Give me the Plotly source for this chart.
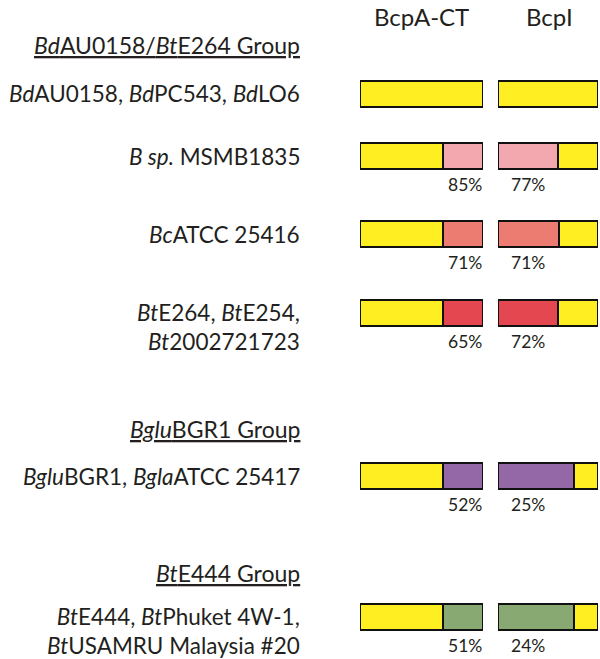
import plotly.graph_objects as go

# ---------------- data ----------------
strains = [
    "<i>Bd</i>AU0158, <i>Bd</i>PC543, <i>Bd</i>LO6",
    "<i>B sp.</i> MSMB1835",
    "<i>Bc</i>ATCC 25416",
    "<i>Bt</i>E264, <i>Bt</i>E254,<br><i>Bt</i>2002721723",
    "<i>Bglu</i>BGR1, <i>Bgla</i>ATCC 25417",
    "<i>Bt</i>E444, <i>Bt</i>Phuket 4W-1,<br><i>Bt</i>USAMRU Malaysia #20",
]
group_titles = [
    "<u><i>Bd</i>AU0158/<i>Bt</i>E264 Group</u>",
    "<u><i>Bglu</i>BGR1 Group</u>",
    "<u><i>Bt</i>E444 Group</u>",
]
column_titles = ["BcpA-CT", "BcpI"]

bcpa_identity = [None, 85, 71, 65, 52, 51]
bcpi_identity = [None, 77, 71, 72, 25, 24]

# relative domain lengths (conserved = yellow, variable = coloured)
bcpa_conserved = [124, 84, 84, 84, 84, 84]
bcpa_variable = [None, 40, 40, 40, 40, 40]
bcpi_variable = [None, 59, 60, 59, 75, 75]
bcpi_conserved = [99, 40, 39, 40, 24, 24]

# ---------------- layout / style ----------------
ROW_Y = [93.5, 156, 234, 313, 476, 617]
GROUP_Y = [45, 429, 573]
HEADER_Y = 16
YELLOW = "#FFEE22"
VAR_COLORS = ["#FFEE22", "#F3A8AF", "#EC7B72", "#E4474F", "#9467A6", "#88AA72"]
FONT = "Lato"
TXT = "#231F20"
LABEL_SIZE = 22.5
W, H = 600, 659

fig = go.Figure()
line = dict(color="#111111", width=2)

fig.add_trace(go.Bar(y=ROW_Y, x=bcpa_conserved, orientation="h", width=26,
                     marker=dict(color=YELLOW, line=line), xaxis="x", yaxis="y",
                     showlegend=False, hoverinfo="skip"))
fig.add_trace(go.Bar(y=ROW_Y, x=bcpa_variable, orientation="h", width=26,
                     marker=dict(color=VAR_COLORS, line=line), xaxis="x", yaxis="y",
                     showlegend=False, hoverinfo="skip"))
fig.add_trace(go.Bar(y=ROW_Y, x=bcpi_variable, orientation="h", width=26,
                     marker=dict(color=VAR_COLORS, line=line), xaxis="x2", yaxis="y",
                     showlegend=False, hoverinfo="skip"))
fig.add_trace(go.Bar(y=ROW_Y, x=bcpi_conserved, orientation="h", width=26,
                     marker=dict(color=YELLOW, line=line), xaxis="x2", yaxis="y",
                     showlegend=False, hoverinfo="skip"))

ann = []
# column headers
for title, xc in zip(column_titles, [421, 549]):
    ann.append(dict(text=title, x=xc / W, y=HEADER_Y, xref="paper", yref="y",
                    xanchor="center", yanchor="middle", showarrow=False,
                    font=dict(family=FONT, size=24, color=TXT)))
# group titles
for title, gy in zip(group_titles, GROUP_Y):
    ann.append(dict(text=title, x=302 / W, y=gy, xref="paper", yref="y",
                    xanchor="right", yanchor="middle", showarrow=False,
                    font=dict(family=FONT, size=23, color=TXT)))
# strain labels
for label, ry in zip(strains, ROW_Y):
    two = "<br>" in label
    ann.append(dict(text=label, x=302 / W, y=ry + (0.62 * LABEL_SIZE if two else 0),
                    xref="paper", yref="y", xanchor="right", yanchor="middle",
                    align="right", showarrow=False,
                    font=dict(family=FONT, size=LABEL_SIZE, color=TXT)))
# identity percentages
for pa, pi, ry in zip(bcpa_identity, bcpi_identity, ROW_Y):
    if pa is not None:
        ann.append(dict(text=f"{pa}%", x=465 / W, y=ry + 28, xref="paper", yref="y",
                        xanchor="center", yanchor="middle", showarrow=False,
                        font=dict(family=FONT, size=17.5, color=TXT)))
    if pi is not None:
        ann.append(dict(text=f"{pi}%", x=528 / W, y=ry + 28, xref="paper", yref="y",
                        xanchor="center", yanchor="middle", showarrow=False,
                        font=dict(family=FONT, size=17.5, color=TXT)))

fig.update_layout(
    width=W, height=H, margin=dict(l=0, r=0, t=0, b=0),
    paper_bgcolor="white", plot_bgcolor="white",
    barmode="stack", bargap=0,
    xaxis=dict(domain=[360 / W, 483 / W], range=[0, 124], visible=False, fixedrange=True),
    xaxis2=dict(domain=[498 / W, 598 / W], range=[0, 99], visible=False, fixedrange=True),
    yaxis=dict(range=[H, 0], domain=[0, 1], visible=False, fixedrange=True),
    annotations=ann,
)

fig.write_html("out.html", config={"displayModeBar": False},
               post_script="document.body.style.margin='0px';document.body.style.overflow='hidden';")
